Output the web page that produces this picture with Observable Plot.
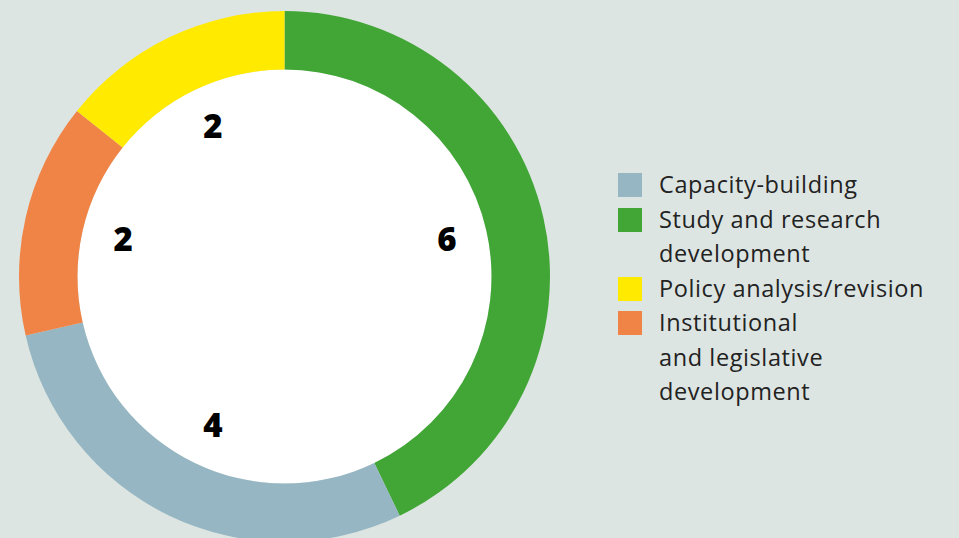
<!DOCTYPE html>
<html>
<head>
<meta charset="utf-8">
<script src="https://cdn.jsdelivr.net/npm/d3@7"></script>
<script src="https://cdn.jsdelivr.net/npm/@observablehq/plot@0.6"></script>
<style>
  html, body { margin: 0; padding: 0; background: #dde5e2; }
  #wrap { position: relative; width: 959px; height: 538px; overflow: hidden; }
  #legend { position: absolute; left: 618px; top: 167px; font-family: "Open Sans", sans-serif; font-size: 23.5px; letter-spacing: 0.6px; color: #222; line-height: 34.5px; }
  .item { position: relative; padding-left: 41px; }
  .sw { position: absolute; left: 0; top: 6px; width: 24px; height: 24px; }
</style>
</head>
<body>
<div id="wrap"></div>
<script>
// Data (clockwise from 12 o'clock)
const categories = ["Study and research development", "Capacity-building", "Institutional and legislative development", "Policy analysis/revision"];
const values = [6, 4, 2, 2];
const colors = ["#41a636", "#95b6c2", "#ef8446", "#ffea00"];
// Legend order and line breaks
const legendOrder = ["Capacity-building", "Study and research development", "Policy analysis/revision", "Institutional and legislative development"];
const legendLines = [["Capacity-building"], ["Study and research", "development"], ["Policy analysis/revision"], ["Institutional", "and legislative", "development"]];

const W = 959, H = 538;
const outerR = 265.5, innerR = 207, labelR = 166;

const data = categories.map((c, i) => ({category: c, value: values[i], color: colors[i]}));
const pie = d3.pie().sort(null).value(d => d.value)(data);
const labels = pie.map(p => {
  const a = (p.startAngle + p.endAngle) / 2;
  return {label: String(p.data.value), x: Math.sin(a) * labelR, y: Math.cos(a) * labelR};
});

const ringMark = (index, scales) => {
  const g = d3.create("svg:g").attr("transform", `translate(${scales.x(0)},${scales.y(0)})`);
  const arc = d3.arc().innerRadius(innerR).outerRadius(outerR);
  g.append("circle").attr("r", innerR).attr("fill", "#ffffff");
  g.selectAll("path").data(pie).join("path")
    .attr("d", arc)
    .attr("fill", d => scales.color ? scales.color(d.data.category) : d.data.color);
  return g.node();
};

const chart = Plot.plot({
  width: W, height: H,
  margin: 0,
  style: {background: "#dde5e2", overflow: "visible"},
  x: {domain: [-284.5, W - 284.5], axis: null},
  y: {domain: [-(H - 276.5), 276.5], axis: null},
  color: {domain: categories, range: colors},
  marks: [
    ringMark,
    Plot.text(labels, {x: "x", y: "y", text: "label", fontSize: 33, fontWeight: 900, fill: "#000",
      fontFamily: "'Open Sans', sans-serif"})
  ]
});
document.getElementById("wrap").appendChild(chart);

const legend = document.createElement("div");
legend.id = "legend";
legendOrder.forEach((c, i) => {
  const item = document.createElement("div");
  item.className = "item";
  const sw = document.createElement("div");
  sw.className = "sw";
  sw.style.background = colors[categories.indexOf(c)];
  item.appendChild(sw);
  legendLines[i].forEach(line => {
    const l = document.createElement("div");
    l.textContent = line;
    item.appendChild(l);
  });
  legend.appendChild(item);
});
document.getElementById("wrap").appendChild(legend);
</script>
</body>
</html>
